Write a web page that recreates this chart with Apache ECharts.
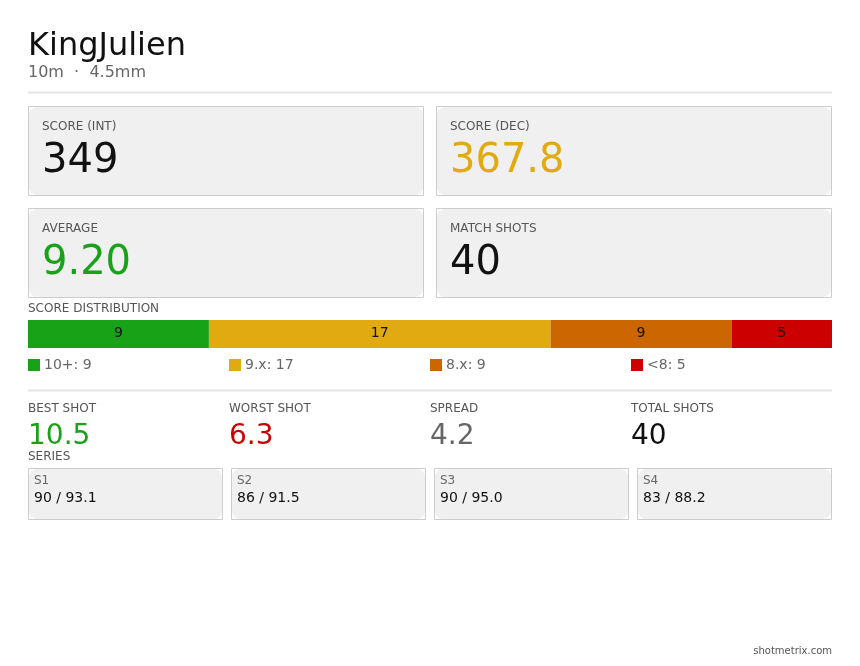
<!DOCTYPE html>
<html>
<head>
<meta charset="utf-8">
<script src="https://cdn.jsdelivr.net/npm/echarts@6/dist/echarts.min.js"></script>
<style>
html,body{margin:0;padding:0;background:#fff;}
#chart{width:860px;height:666px;}
</style>
</head>
<body>
<div id="chart"></div>
<script>
const titleText = 'KingJulien';
const subtitleText = '10m  ·  4.5mm';
const cardLabels = ['SCORE (INT)', 'SCORE (DEC)', 'AVERAGE', 'MATCH SHOTS'];
const cardValues = ['349', '367.8', '9.20', '40'];
const distCategories = ['10+', '9.x', '8.x', '<8'];
const distCounts = [9, 17, 9, 5];
const statLabels = ['BEST SHOT', 'WORST SHOT', 'SPREAD', 'TOTAL SHOTS'];
const statValues = ['10.5', '6.3', '4.2', '40'];
const seriesNames = ['S1', 'S2', 'S3', 'S4'];
const seriesInt = [90, 86, 90, 83];
const seriesDec = ['93.1', '91.5', '95.0', '88.2'];
const footerText = 'shotmetrix.com';

const FONT = "'DejaVu Sans', sans-serif";
const GREEN = '#18a218', GOLD = '#e0aa10', ORANGE = '#cc6600', RED = '#cc0000';
const distColors = [GREEN, GOLD, ORANGE, RED];
const cardValueColors = ['#111111', GOLD, GREEN, '#111111'];
const statValueColors = [GREEN, RED, '#666666', '#111111'];

const L = 28, R = 832, W = R - L;
const g = [];
function txt(x, y, text, size, color, align) {
  g.push({type: 'text', x: x, y: y, silent: true,
    style: {text: text, fill: color, font: size + 'px ' + FONT, align: align || 'left', verticalAlign: 'middle'}});
}
function card(x, y, w, h) {
  g.push({type: 'rect', silent: true, shape: {x: x + 0.5, y: y + 0.5, width: w - 1, height: h - 1},
    style: {fill: '#ffffff', stroke: '#cccccc', lineWidth: 1}});
  g.push({type: 'rect', silent: true, shape: {x: x + 1, y: y + 1, width: w - 2, height: h - 2, r: 8},
    style: {fill: '#f0f0f0'}});
}
function hline(y) {
  g.push({type: 'line', silent: true, shape: {x1: L, y1: y + 0.5, x2: R, y2: y + 0.5},
    style: {stroke: '#e6e6e6', lineWidth: 2}});
}

txt(L, 47, titleText, 32, '#111111');
txt(L, 73, subtitleText, 16, '#666666');
hline(92);

const cw = 396, ch = 90;
cardLabels.forEach((lab, i) => {
  const col = i % 2, row = Math.floor(i / 2);
  const x = L + col * (cw + 12), y = 106 + row * 102;
  card(x, y, cw, ch);
  txt(x + 14, y + 21, lab, 12, '#555555');
  txt(x + 14, y + 56, cardValues[i], 40, cardValueColors[i]);
});

txt(L, 309, 'SCORE DISTRIBUTION', 12, '#555555');
hline(390);

const colW = W / 4;
statLabels.forEach((lab, i) => {
  const x = L + i * colW;
  txt(x, 409, lab, 12, '#555555');
  txt(x, 437, statValues[i], 28, statValueColors[i]);
});

txt(L, 457, 'SERIES', 12, '#555555');
const sw = 195, sg = 8;
seriesNames.forEach((n, i) => {
  const x = L + i * (sw + sg);
  card(x, 468, sw, 52);
  txt(x + 6, 481, n, 12, '#666666');
  txt(x + 6, 498, seriesInt[i] + ' / ' + seriesDec[i], 14, '#111111');
});

txt(R, 651, footerText, 10, '#555555', 'right');

const total = distCounts.reduce((a, b) => a + b, 0);
const series = distCategories.map((c, i) => ({
  name: c, type: 'bar', stack: 'dist', barWidth: 28,
  data: [distCounts[i]],
  itemStyle: {color: distColors[i]},
  label: {show: true, position: 'inside', color: '#111111', fontSize: 14, fontFamily: FONT, offset: [0, -1]},
  emphasis: {disabled: true}, silent: true
}));
const legends = distCategories.map((c, i) => ({
  data: [c], left: L + i * colW, top: 358, itemWidth: 12, itemHeight: 12, icon: 'rect',
  selectedMode: false, padding: 0, itemGap: 0,
  formatter: (name) => name + ': ' + distCounts[distCategories.indexOf(name)],
  textStyle: {fontSize: 14, color: '#666666', fontFamily: FONT, padding: [1, 0, 0, -1]}
}));

const chart = echarts.init(document.getElementById('chart'));
chart.setOption({
  animation: false,
  backgroundColor: '#ffffff',
  textStyle: {fontFamily: FONT},
  grid: {left: L, right: 860 - R, top: 320, height: 28, containLabel: false},
  xAxis: {type: 'value', min: 0, max: total, show: false},
  yAxis: {type: 'category', data: ['dist'], show: false},
  legend: legends,
  series: series,
  graphic: g
});
</script>
</body>
</html>
